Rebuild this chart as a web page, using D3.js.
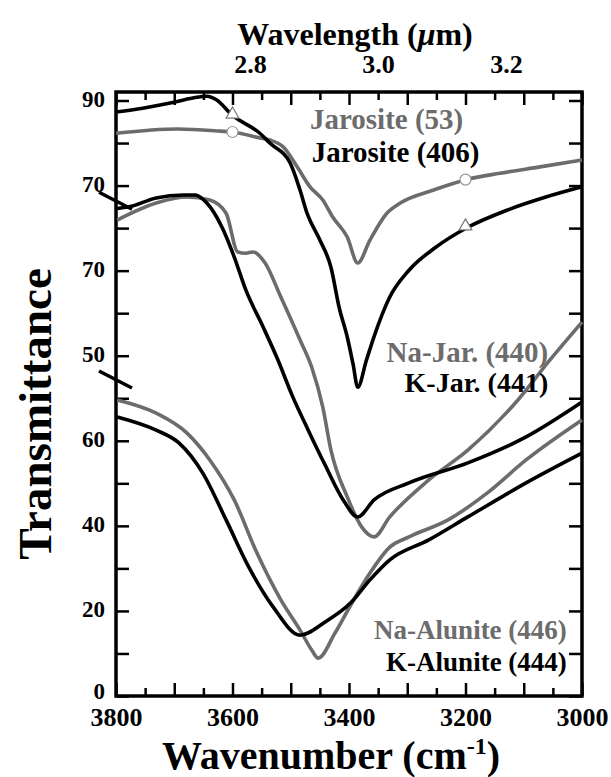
<!DOCTYPE html>
<html>
<head>
<meta charset="utf-8">
<script src="https://cdn.jsdelivr.net/npm/d3@7"></script>
<style>
  body { margin: 0; background: #fff; }
  svg { display: block; }
  text { font-family: "Liberation Serif", "Times New Roman", serif; font-weight: bold; }
</style>
</head>
<body>
<div id="chart"></div>
<script>
// spectra: [wavenumber cm-1, offset transmittance]
const jar406 = [[3800,137.3],[3754,138.2],[3707,139.4],[3668,140.6],[3644,141.0],[3627,140.1],[3601,136.6],
  [3553,132.3],[3536,130.0],[3501,125.3],[3484,118.9],[3472,113.5],[3450,107.2],[3431,100.8],[3417,91.4],
  [3403,84.4],[3393,78.0],[3385,72.6],[3370,79.0],[3357,84.5],[3330,93.8],[3297,100.1],[3251,105.5],
  [3196,110.2],[3129,114.2],[3062,117.3],[3000,119.7]];
const jar53 = [[3800,132.3],[3695,133.3],[3621,132.8],[3601,132.6],[3553,131.2],[3536,130.7],[3513,129.1],
  [3489,124.4],[3467,119.7],[3445,116.6],[3428,112.6],[3403,107.9],[3385,101.8],[3364,107.2],[3335,113.5],
  [3312,115.9],[3256,118.9],[3196,121.5],[3141,122.9],[3072,124.4],[3000,126.0]];
const kJar441 = [[3798,114.6],[3778,115.0],[3731,117.1],[3685,117.8],[3664,117.8],[3644,115.9],[3618,110.2],
  [3597,103.2],[3577,95.4],[3549,87.2],[3522,79.0],[3498,70.8],[3470,62.5],[3441,54.3],[3410,46.1],
  [3385,42.1],[3357,46.1],[3297,50.1],[3196,54.8],[3096,60.9],[3000,69.1]];
const naJar440 = [[3798,111.9],[3731,115.9],[3678,117.3],[3639,116.6],[3611,113.5],[3591,104.4],[3577,104.1],
  [3565,104.4],[3544,101.8],[3517,93.8],[3484,83.7],[3464,77.3],[3445,67.9],[3431,57.8],[3403,46.8],
  [3378,39.7],[3357,37.4],[3330,42.1],[3263,50.8],[3196,57.8],[3110,69.6],[3055,79.0],[3000,87.9]];
const kAlu444 = [[3798,65.6],[3731,62.5],[3692,59.5],[3651,52.4],[3611,41.4],[3572,30.3],[3530,20.9],
  [3484,14.3],[3441,17.4],[3397,21.9],[3364,27.3],[3330,32.0],[3263,36.7],[3196,42.1],[3096,50.1],[3000,57.1]];
const naAlu446 = [[3798,69.6],[3731,66.5],[3678,61.8],[3639,55.5],[3597,46.1],[3558,33.6],[3517,22.6],
  [3484,15.5],[3464,10.8],[3453,8.9],[3424,14.8],[3397,21.4],[3364,28.9],[3330,35.0],[3297,37.4],
  [3230,41.4],[3163,47.7],[3096,55.5],[3000,64.9]];

const jar406Marks = [[3600,136.5],[3200,110.2]];
const jar53Marks = [[3600,132.6],[3200,121.4]];

const yTickLabels = ["0","20","40","60","50","70","70","90"];
const xTickLabels = [3800,3600,3400,3200,3000];
const wlTickLabels = [2.8,3.0,3.2];
const breakMarks = [116.3, 74.3];

const black = "#000", gray = "#6c6c6c";

const series = [
  {name: "Jarosite (53)", data: jar53, color: gray},
  {name: "Jarosite (406)", data: jar406, color: black},
  {name: "Na-Jar. (440)", data: naJar440, color: gray},
  {name: "K-Jar. (441)", data: kJar441, color: black},
  {name: "Na-Alunite (446)", data: naAlu446, color: gray},
  {name: "K-Alunite (444)", data: kAlu444, color: black}
];

// label anchors in data units
const labels = [
  {text: "Jarosite (53)", nu: 3467, t: 133.4, anchor: "start", color: gray, size: 29},
  {text: "Jarosite (406)", nu: 3464, t: 125.6, anchor: "start", color: black, size: 29},
  {text: "Na-Jar. (440)", nu: 3058, t: 78.6, anchor: "end", color: gray, size: 29},
  {text: "K-Jar. (441)", nu: 3058, t: 71.4, anchor: "end", color: black, size: 28},
  {text: "Na-Alunite (446)", nu: 3026, t: 13.4, anchor: "end", color: gray, size: 27},
  {text: "K-Alunite (444)", nu: 3026, t: 5.8, anchor: "end", color: black, size: 27}
];

const W = 611, H = 777;
const m = {left: 116, right: 29, top: 92, bottom: 81};

const svg = d3.select("#chart").append("svg").attr("width", W).attr("height", H);

const x = d3.scaleLinear().domain([3800, 3000]).range([m.left, W - m.right]);
const y = d3.scaleLinear().domain([0, 142]).range([H - m.bottom, m.top]);
const wl = d3.scaleLinear().domain([2.5906, 3.3188]).range([m.left, W - m.right]);

const majors = d3.range(3800, 2999, -100);
const minors = d3.range(3750, 3000, -100);
const yTicks = d3.range(0, 141, 10);

function clean(g) { g.select(".domain").remove(); g.selectAll("line").attr("stroke-width", 2.5); }

// bottom ticks
svg.append("g").attr("transform", `translate(0,${y(0)})`)
  .call(d3.axisBottom(x).tickValues(majors).tickSize(-13).tickFormat("")).call(clean);
svg.append("g").attr("transform", `translate(0,${y(0)})`)
  .call(d3.axisBottom(x).tickValues(minors).tickSize(-8).tickFormat("")).call(clean);
svg.append("g").attr("transform", `translate(0,${y(0)})`)
  .call(d3.axisBottom(x).tickValues(xTickLabels).tickSize(0).tickPadding(12).tickFormat(d3.format("d")))
  .call(g => g.select(".domain").remove())
  .selectAll("text").attr("font-size", 26).attr("fill", black).style("font-family", null);

// top ticks
svg.append("g").attr("transform", `translate(0,${m.top})`)
  .call(d3.axisTop(x).tickValues(majors).tickSize(-13).tickFormat("")).call(clean);
svg.append("g").attr("transform", `translate(0,${m.top})`)
  .call(d3.axisTop(x).tickValues(minors).tickSize(-8).tickFormat("")).call(clean);
svg.append("g").attr("transform", `translate(0,${m.top})`)
  .call(d3.axisTop(wl).tickValues(wlTickLabels).tickSize(0).tickPadding(19).tickFormat(d3.format(".1f")))
  .call(g => g.select(".domain").remove())
  .selectAll("text").attr("font-size", 26).attr("fill", black).style("font-family", null);

// left / right ticks
svg.append("g").attr("transform", `translate(${m.left},0)`)
  .call(d3.axisLeft(y).tickValues(yTicks).tickSize(-13).tickFormat("")).call(clean);
svg.append("g").attr("transform", `translate(${W - m.right},0)`)
  .call(d3.axisRight(y).tickValues(yTicks).tickSize(-13).tickFormat("")).call(clean);
svg.append("g").attr("transform", `translate(${m.left},0)`)
  .call(d3.axisLeft(y).tickValues(d3.range(0, 141, 20)).tickSize(0).tickPadding(11)
    .tickFormat((d, i) => yTickLabels[i]))
  .call(g => g.select(".domain").remove())
  .selectAll("text").attr("font-size", 23).attr("fill", black)
    .attr("dy", d => d === 0 ? "0.12em" : "0.25em").style("font-family", null);

// frame
svg.append("rect")
  .attr("x", x(3800)).attr("y", y(142))
  .attr("width", x(3000) - x(3800)).attr("height", y(0) - y(142))
  .attr("fill", "none").attr("stroke", black).attr("stroke-width", 3.5);

// curves
const line = d3.line().x(d => x(d[0])).y(d => y(d[1])).curve(d3.curveMonotoneX);
svg.append("g").selectAll("path")
  .data(series)
  .join("path")
    .attr("d", d => line(d.data))
    .attr("fill", "none")
    .attr("stroke", d => d.color)
    .attr("stroke-width", 3.6)
    .attr("stroke-linejoin", "round");

// axis breaks
svg.append("g").selectAll("line")
  .data(breakMarks)
  .join("line")
    .attr("x1", x(3800) - 17).attr("x2", x(3800) + 16)
    .attr("y1", d => y(d) - 9).attr("y2", d => y(d) + 8)
    .attr("stroke", black).attr("stroke-width", 3.5);

// markers
svg.append("g").selectAll("path")
  .data(jar406Marks)
  .join("path")
    .attr("transform", d => `translate(${x(d[0])},${y(d[1]) - 1})`)
    .attr("d", d3.symbol(d3.symbolTriangle).size(70))
    .attr("fill", "#fff").attr("stroke", "#777").attr("stroke-width", 1.2);
svg.append("g").selectAll("circle")
  .data(jar53Marks)
  .join("circle")
    .attr("cx", d => x(d[0])).attr("cy", d => y(d[1]))
    .attr("r", 5.5)
    .attr("fill", "#fff").attr("stroke", "#999").attr("stroke-width", 1.2);

// series labels
svg.append("g").selectAll("text")
  .data(labels)
  .join("text")
    .attr("x", d => x(d.nu)).attr("y", d => y(d.t))
    .attr("text-anchor", d => d.anchor)
    .attr("fill", d => d.color)
    .attr("font-size", d => d.size)
    .text(d => d.text);

// axis titles
const topTitle = svg.append("text")
  .attr("x", 355).attr("y", 45)
  .attr("text-anchor", "middle").attr("font-size", 32);
topTitle.append("tspan").text("Wavelength (");
topTitle.append("tspan").attr("font-style", "italic").text("μ");
topTitle.append("tspan").text("m)");

const bottomTitle = svg.append("text")
  .attr("x", 331).attr("y", 769)
  .attr("text-anchor", "middle").attr("font-size", 40);
bottomTitle.append("tspan").text("Wavenumber (cm");
bottomTitle.append("tspan").attr("font-size", 24).attr("dy", -15).text("-1");
bottomTitle.append("tspan").attr("dy", 15).text(")");

svg.append("text")
  .attr("transform", `translate(51,414) rotate(-90)`)
  .attr("text-anchor", "middle").attr("font-size", 47)
  .text("Transmittance");
</script>
</body>
</html>
